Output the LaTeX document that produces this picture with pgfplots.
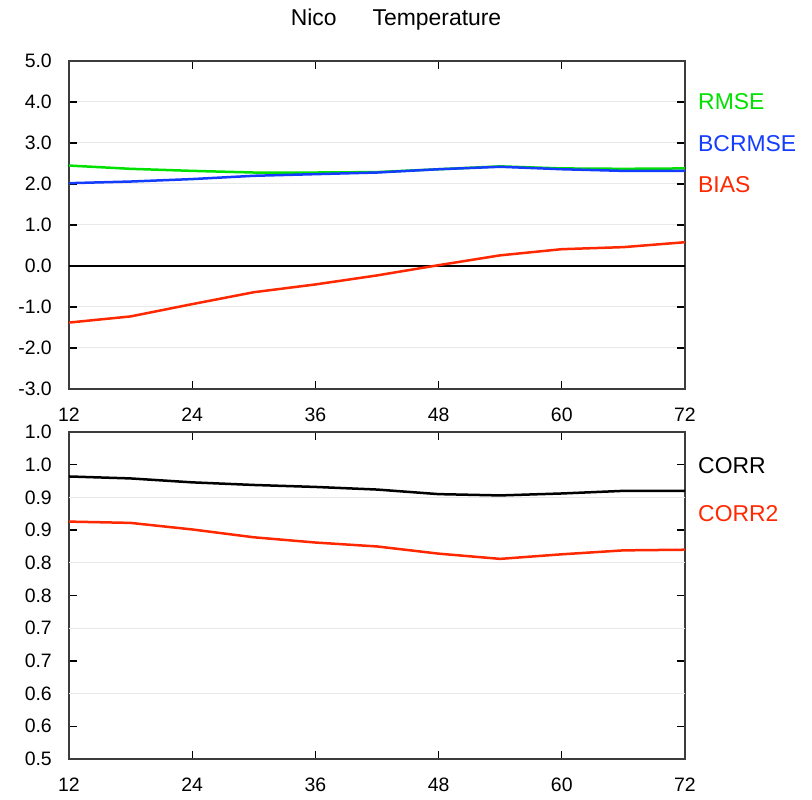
\documentclass[border=0pt]{standalone}
\usepackage{fontspec}
\setmainfont{Liberation Sans}
\usepackage{pgfplots}
\pgfplotsset{compat=1.18}
\definecolor{rmsecol}{RGB}{0,225,0}
\definecolor{bcrmsecol}{RGB}{20,60,255}
\definecolor{biascol}{RGB}{255,40,0}
\definecolor{axcol}{RGB}{60,60,60}

\begin{document}
\begin{tikzpicture}
\useasboundingbox (0bp,0bp) rectangle (812bp,800bp);
\pgfplotsset{
  panel/.style={
    scale only axis, width=616bp, anchor=south west,
    xmin=12, xmax=72, xtick={12,24,36,48,60,72},
    tick align=inside, major tick length=8bp,
    axis line style={line width=1.3bp, axcol},
    every tick/.style={black, line width=1.3bp},
    tick label style={font=\fontsize{19.5}{19.5}\selectfont},
    /pgf/number format/assume math mode=true,
    xticklabel style={anchor=north, inner sep=0pt, yshift=-19bp},
    yticklabel style={anchor=east, inner sep=0pt, xshift=-17bp},
    grid style={gray!18, line width=1bp},
    every axis plot/.append style={line width=2.5bp},
  }
}

% top panel
\begin{axis}[panel, at={(69bp,411bp)}, height=328bp,
  ymin=-3, ymax=5, ytick={-3,-2,...,5},
  yticklabel style={/pgf/number format/.cd, fixed, fixed zerofill, precision=1},
  ymajorgrids,
  extra y ticks={0}, extra y tick labels={},
  extra y tick style={grid=major, grid style={black, line width=1.2bp}, major tick length=0pt},
]
\addplot[rmsecol] coordinates {
  (12,2.45)(18,2.37)(24,2.32)(30,2.28)(36,2.28)(42,2.29)(48,2.36)(54,2.43)(60,2.38)(66,2.37)(72,2.38)};
\addplot[bcrmsecol] coordinates {
  (12,2.02)(18,2.06)(24,2.12)(30,2.20)(36,2.24)(42,2.28)(48,2.36)(54,2.42)(60,2.36)(66,2.32)(72,2.32)};
\addplot[biascol] coordinates {
  (12,-1.38)(18,-1.23)(24,-0.93)(30,-0.64)(36,-0.45)(42,-0.23)(48,0.02)(54,0.26)(60,0.41)(66,0.46)(72,0.58)};
\end{axis}

% bottom panel
\begin{axis}[panel, at={(69bp,41bp)}, height=327bp,
  ymin=0.5, ymax=1.0, ytick={0.5,0.55,...,1.01},
  yticklabels={0.5,0.6,0.6,0.7,0.7,0.8,0.8,0.9,0.9,1.0,1.0},
  extra y ticks={0.6,0.7,0.8,0.9}, extra y tick labels={},
  extra y tick style={grid=major, major tick length=0pt},
]
\addplot[black] coordinates {
  (12,0.932)(18,0.929)(24,0.923)(30,0.919)(36,0.916)(42,0.912)(48,0.905)(54,0.903)(60,0.906)(66,0.910)(72,0.910)};
\addplot[biascol] coordinates {
  (12,0.863)(18,0.861)(24,0.851)(30,0.839)(36,0.831)(42,0.825)(48,0.814)(54,0.806)(60,0.813)(66,0.819)(72,0.820)};
\end{axis}

\node at (396bp,780bp) {\fontsize{23}{23}\selectfont Nico\hspace{36bp}Temperature};
\begin{scope}[every node/.style={anchor=west, inner sep=0pt, font=\fontsize{23}{23}\selectfont}]
\node[text=rmsecol] at (698bp,698bp) {RMSE};
\node[text=bcrmsecol] at (698bp,656bp) {BCRMSE};
\node[text=biascol] at (698bp,615bp) {BIAS};
\node[text=black] at (698bp,334bp) {CORR};
\node[text=biascol] at (698bp,286bp) {CORR2};
\end{scope}
\end{tikzpicture}
\end{document}
